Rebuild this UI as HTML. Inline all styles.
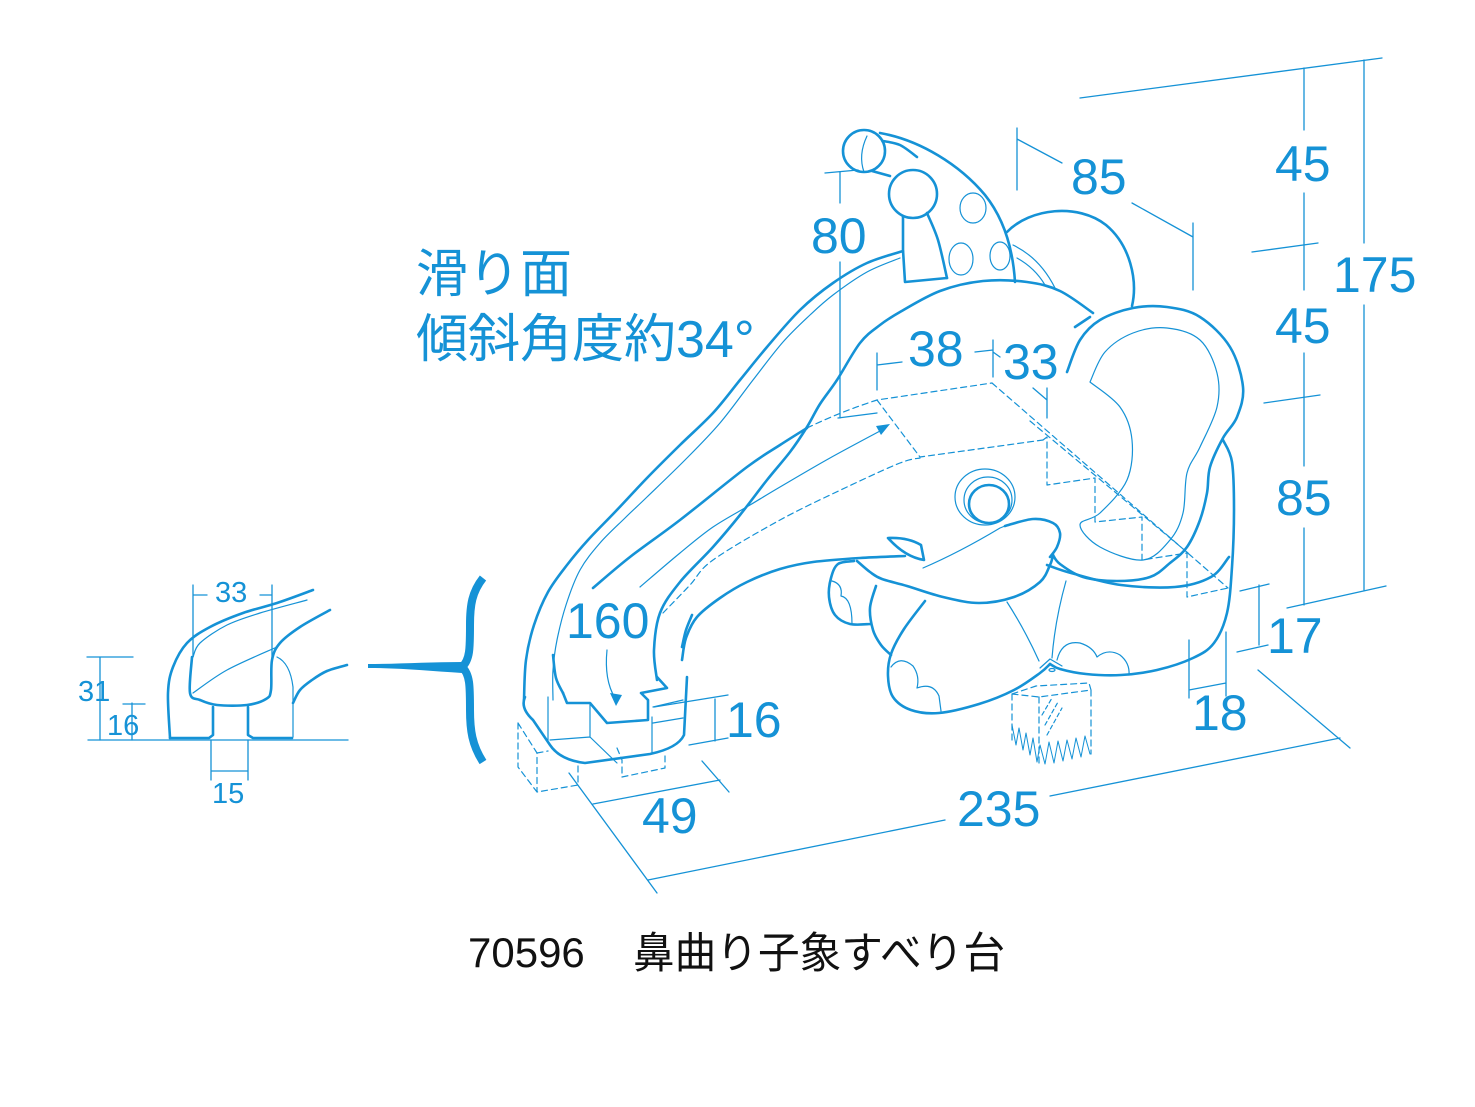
<!DOCTYPE html>
<html><head><meta charset="utf-8"><style>
html,body{margin:0;padding:0;background:#fff;}
svg{display:block;}
</style></head><body>
<svg id="dg" width="1475" height="1107" viewBox="0 0 1475 1107" xmlns="http://www.w3.org/2000/svg">
<rect width="1475" height="1107" fill="#fff"/>
<g fill="none" stroke="#1592d6" stroke-linecap="round" stroke-linejoin="round">
 <!-- dimension lines -->
 <g stroke-width="1.3">
  <path d="M1080,98 L1382,58"/>
  <path d="M1304,68 V130 M1304,193 V290 M1304,353 V466 M1304,528 V605"/>
  <path d="M1364,60 V243 M1364,305 V590"/>
  <path d="M1252,252 L1318,243"/>
  <path d="M1264,403 L1320,395"/>
  <path d="M1287,608 L1386,586"/>
  <path d="M1259,585 V645 M1240,591 L1269,584 M1237,652 L1268,645"/>
  <path d="M1189,640 V698 M1226,632 V696 M1189,690 L1226,683"/>
  <path d="M1258,670 L1350,748"/>
  <path d="M1050,796 L1340,738"/>
  <path d="M648,880 L945,820"/>
  <path d="M569,773 L657,893"/>
  <path d="M593,804 L720,780 M702,761 L729,792"/>
  <path d="M654,707 L728,695 M689,745 L728,738 M715,699 V741"/>
  <path d="M825,173 L858,170 M840,172 V203 M840,262 V418 M838,418 L877,413"/>
  <path d="M877,353 V390 M877,365 L902,362 M975,352 L993,350 M993,340 V377 M993,352 L1000,357"/>
  <path d="M1033,388 L1047,400 M1047,388 V418"/>
  <path d="M1017,128 V190 M1017,139 L1062,163 M1132,203 L1193,237 M1193,223 V290"/>
  <!-- small section dims -->
  <path d="M88,740 L348,740"/>
  <path d="M87,657 L133,657 M100,657 V740"/>
  <path d="M123,704 L145,704 M132,703 V740"/>
  <path d="M193,585 V657 M272,585 V660 M193,595 L207,595 M260,595 L272,595"/>
  <path d="M211,740 V780 M248,740 V780 M211,771 L248,771"/>
 </g>
 <!-- thick outlines -->
 <g stroke-width="2.6">
  <polyline class="s" points="524,700 526,660 534,625 548,592 567,565 588,540 615,512 647,478 680,445 713,413 740,380 767,347 800,310 833,283 867,263 903,251"/>
  <polyline class="s" points="593,588 630,557 680,520 747,467 780,445 807,428"/>
  <polyline class="s" points="657,680 654,650 660,613 680,582 713,547 740,515 767,480 790,452 807,427 820,404 837,380 860,343 880,325 900,312 940,291 983,281 1027,282 1060,291 1093,313"/>
  <polyline class="s" points="682,660 686,638 697,617 720,598 747,582 780,569 813,562 860,558 905,556"/>
  <polyline class="s" points="692,615 686,630 682,647"/>
  <path d="M525,697 Q520,708 533,720 L550,745 Q560,760 585,763 L650,754 Q678,748 684,735 L687,677"/>
  <polyline class="s" points="553,655 556,678 563,693"/>
  <polyline points="563,693 567,703 590,703 607,723 648,720 648,700 641,693 667,688 657,677"/>
  <!-- hat -->
  <polyline points="903,217 903,250 905,282 947,278"/>
  <polyline class="s" points="927,213 938,240 947,278"/>
  <path d="M880,133 C920,140 960,165 985,195 C1005,220 1013,250 1015,282"/>
  <circle cx="864" cy="151" r="21"/>
  <circle cx="913" cy="194" r="24"/>
  <polyline class="s" points="883,141 900,145 917,157"/>
  <polyline points="872,171 890,176"/>
  <path d="M1007,232 C1030,208 1078,203 1106,225 C1130,245 1138,280 1132,306"/>
  <!-- ear / body -->
  <polyline class="s" points="1067,372 1080,340 1100,320 1133,308 1167,307 1200,317 1230,347 1243,387 1237,417 1223,438 1210,467 1207,493 1200,520 1187,547 1170,563 1150,577 1117,581 1083,577 1060,564 1053,555"/>
  <polyline points="1075,327 1090,317"/>
  <polyline class="s" points="1223,440 1232,462 1234,510 1232,567 1227,613 1214,643 1193,658 1157,670 1121,675 1086,674 1060,669 1050,664"/>
  <polyline class="s" points="857,561 870,572 882,579 907,586 943,597 979,603 1014,597 1040,582 1050,565 1053,555"/>
  <polyline class="s" points="1047,565 1071,573 1121,585 1175,587 1211,577 1229,557"/>
  <polyline class="s" points="925,601 904,629 891,654 888,676 893,697 911,710 939,713 979,704 1014,690 1040,673 1050,664"/>
  <polyline class="s" points="854,561 838,564 831,578 829,597 835,615 850,624 871,624"/>
  <polyline class="s" points="876,586 870,608 873,630 881,645 891,655"/>
  <polyline class="s" points="1005,526 1033,519 1053,523 1060,533 1057,547 1050,557"/>
  <path d="M888,538 Q908,537 921,545 L924,560 Q905,557 888,538 Z"/>
  <ellipse cx="989" cy="504" rx="20" ry="19"/>
  <!-- small section -->
  <polyline class="s" points="170,738 168,693 173,667 187,643 210,627 243,613 277,603 313,590"/>
  <polyline class="s" points="192,657 190,693 200,700 217,705 247,705 266,699 271,690 272,660 280,643 300,627 330,610"/>
  <polyline points="213,707 213,735 209,738 170,738"/>
  <polyline points="248,707 248,735 253,738 292,738"/>
  <polyline class="s" points="293,703 300,690 312,680 327,671 347,665"/>
 </g>
 <!-- thin lines -->
 <g stroke-width="1.2">
  <polyline class="s" points="553,700 553,670 557,640 566,605 580,570 600,543 625,518 647,497 685,460 720,423 753,380 783,342 810,315 833,295 867,272 900,258"/>
  <polyline class="s" points="640,587 680,553 713,527 750,505 780,487 830,458 880,431"/>
  <path d="M548,697 V740 M550,740 L590,737 M590,703 V737 L617,763 M652,717 V753 M653,707 L683,700 M653,723 L683,718"/>
  <path d="M607,650 Q604,680 615,698"/>
  <ellipse cx="973" cy="208" rx="13" ry="15"/>
  <ellipse cx="961" cy="259" rx="12" ry="16"/>
  <ellipse cx="1000" cy="256" rx="10" ry="14"/>
  <path d="M867,136 Q858,155 864,172"/>
  <path d="M1013,245 Q1040,258 1055,288 M1017,258 Q1035,268 1045,285"/>
  <polyline class="s" points="1090,382 1105,352 1133,333 1167,328 1200,340 1217,373 1217,407 1200,447 1187,473 1183,513 1170,540 1143,560 1100,547 1080,525 1100,513 1127,480 1132,440 1120,407 1090,382"/>
  <ellipse cx="985" cy="497" rx="30" ry="28"/>
  <ellipse cx="988" cy="500" rx="24" ry="23"/>
  <path d="M923,568 Q960,552 1000,528 L1005,526"/>
  <path d="M832,581 Q843,584 841,596 Q852,598 852,624"/>
  <path d="M891,667 Q900,655 913,666 Q920,676 917,688 Q933,682 939,696 L941,711"/>
  <path d="M1057,660 Q1062,640 1080,643 Q1093,647 1097,657 Q1108,648 1120,655 Q1130,663 1129,675"/>
  <path d="M1007,602 Q1025,630 1039,661 M1066,581 Q1055,620 1052,658"/>
  <path d="M1040,668 L1050,659 L1062,666"/>
  <ellipse cx="1052" cy="670" rx="3" ry="1.5"/>
  <polyline class="s" points="193,657 200,643 227,625 260,613 307,600"/>
  <polyline class="s" points="193,693 227,670 277,647"/>
  <path d="M277,657 Q290,663 293,687 V737"/>
  <polyline stroke-width="1" points="1012,725 1016,745 1019,728 1023,750 1026,733 1030,755 1033,738 1037,762 1040,745 1045,764 1049,742 1054,763 1058,741 1063,761 1067,740 1072,759 1076,738 1081,757 1085,736 1090,754"/>
  <path stroke-dasharray="4 3" d="M1042,715 L1052,698 M1045,725 L1058,702 M1047,735 L1062,708"/>
 </g>
 <!-- dashed -->
 <g stroke-width="1.2" stroke-dasharray="6 4">
  <polyline class="s" points="663,613 690,585 713,560 780,520 847,487 900,463 920,458"/>
  <path d="M807,428 Q840,412 877,400 L992,383"/>
  <path d="M877,400 L920,457 L1043,440"/>
  <path d="M992,383 L1228,588"/>
  <path d="M1030,421 L1188,553"/>
  <path d="M1043,440 L1047,437 V485 L1095,478 V522 L1142,517 V560 L1187,553 V597 L1228,588"/>
  <path d="M518,723 L518,767 L537,792 L578,785 L578,765 M518,723 L537,753 L537,792 M537,753 L548,751"/>
  <path d="M617,748 L622,760 L622,777 L665,768 L665,753"/>
  <path d="M1012,694 L1039,697 L1091,690 M1012,694 L1036,686 L1089,683 L1091,690 M1012,694 V742 M1039,697 V765 M1091,690 V754"/>
 </g>
</g>
<!-- arrowheads & brace -->
<g fill="#1592d6" stroke="none">
 <polygon points="890,424 881,435 876,426"/>
 <polygon points="616,706 610,693 622,695"/>
 <path d="M368,664 C400,664 430,662 462,662 L462,673 C430,671 400,668 368,668 Z"/>
</g>
<path d="M483,578 C472,592 470,605 470,625 C470,648 470,660 462,667 C470,674 470,686 470,710 C470,730 472,745 483,762" fill="none" stroke="#1592d6" stroke-width="8" stroke-linecap="butt"/>
<!-- labels -->
<g fill="#1592d6" font-family="'Liberation Sans', Arial, sans-serif" font-size="50">
 <text x="1275" y="181">45</text>
 <text x="1333" y="292">175</text>
 <text x="1275" y="343">45</text>
 <text x="1276" y="515">85</text>
 <text x="1071" y="194">85</text>
 <text x="811" y="253">80</text>
 <text x="908" y="366">38</text>
 <text x="1003" y="379">33</text>
 <text x="566" y="638">160</text>
 <text x="726" y="737">16</text>
 <text x="1267" y="653">17</text>
 <text x="1192" y="730">18</text>
 <text x="642" y="833">49</text>
 <text x="957" y="826">235</text>
</g>
<g fill="#1592d6" font-family="'Liberation Sans', Arial, sans-serif" font-size="29">
 <text x="215" y="602">33</text>
 <text x="78" y="701">31</text>
 <text x="107" y="735">16</text>
 <text x="212" y="803">15</text>
</g>
<g fill="#1592d6" font-family="'Liberation Sans', 'Noto Sans CJK JP', sans-serif" font-size="52">
 <text x="416" y="292">滑り面</text>
 <text x="416" y="357">傾斜角度約34°</text>
</g>
<text x="468" y="967" fill="#111" font-family="'Liberation Sans', Arial, sans-serif" font-size="42">70596</text>
<text x="633" y="968" fill="#111" font-family="'Liberation Sans', 'Noto Sans CJK JP', sans-serif" font-size="43" textLength="372" lengthAdjust="spacingAndGlyphs">鼻曲り子象すべり台</text>
</svg>
<script>
(function(){
 var ns='http://www.w3.org/2000/svg';
 var list=document.querySelectorAll('polyline.s');
 for(var k=0;k<list.length;k++){
  var pl=list[k];
  var pts=pl.getAttribute('points').trim().split(/\s+/).map(function(p){return p.split(',').map(Number);});
  if(pts.length<3) continue;
  var d='M'+pts[0][0]+','+pts[0][1];
  for(var i=0;i<pts.length-1;i++){
   var p0=pts[i-1]||pts[i],p1=pts[i],p2=pts[i+1],p3=pts[i+2]||p2;
   var c1x=p1[0]+(p2[0]-p0[0])/6,c1y=p1[1]+(p2[1]-p0[1])/6;
   var c2x=p2[0]-(p3[0]-p1[0])/6,c2y=p2[1]-(p3[1]-p1[1])/6;
   d+=' C'+c1x.toFixed(1)+','+c1y.toFixed(1)+' '+c2x.toFixed(1)+','+c2y.toFixed(1)+' '+p2[0]+','+p2[1];
  }
  var path=document.createElementNS(ns,'path');
  for(var j=0;j<pl.attributes.length;j++){var a=pl.attributes[j];if(a.name!=='points'&&a.name!=='class')path.setAttribute(a.name,a.value);}
  path.setAttribute('d',d);
  pl.parentNode.replaceChild(path,pl);
 }
})();
</script>
</body></html>
